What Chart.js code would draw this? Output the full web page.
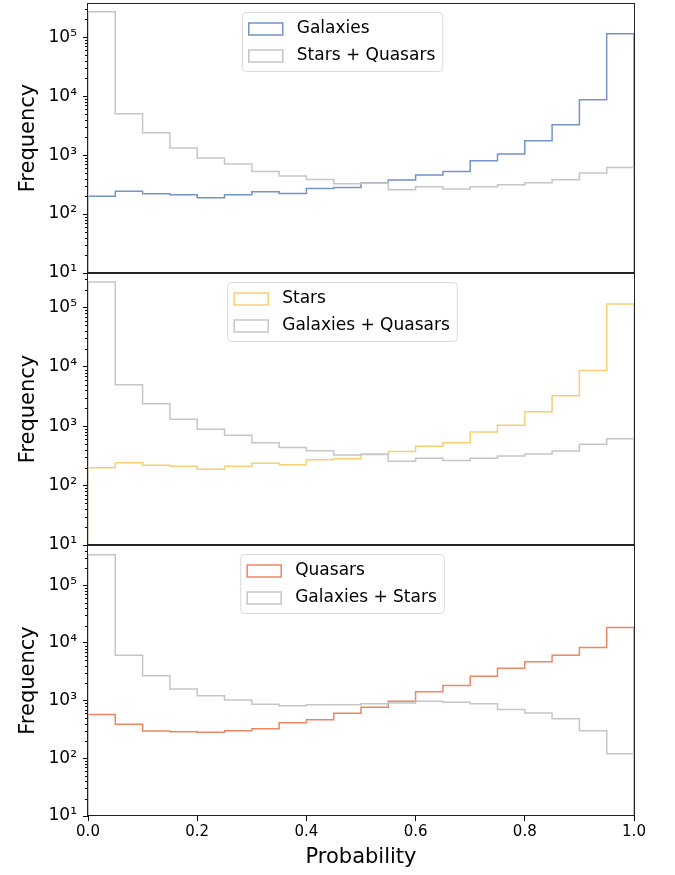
<!DOCTYPE html>
<html>
<head>
<meta charset="utf-8">
<script src="https://cdn.jsdelivr.net/npm/chart.js@4"></script>
<style>
  body { margin: 0; background: #fff; }
  #wrap { position: relative; width: 675px; height: 875px; }
  canvas { position: absolute; left: 0; }
</style>
</head>
<body>
<div id="wrap">
  <canvas id="top" width="675" height="290" style="top:0"></canvas>
  <canvas id="mid" width="675" height="290" style="top:270px"></canvas>
  <canvas id="bot" width="675" height="340" style="top:535px"></canvas>
</div>
<script>
// histogram bin edges (20 bins of width 0.05)
const binEdges = [0.0, 0.05, 0.1, 0.15, 0.2, 0.25, 0.3, 0.35, 0.4, 0.45, 0.5,
                  0.55, 0.6, 0.65, 0.7, 0.75, 0.8, 0.85, 0.9, 0.95, 1.0];
const xTicks = [0.0, 0.2, 0.4, 0.6, 0.8, 1.0];
const yTicks = [10, 100, 1000, 10000, 100000];

const galaxies = [200, 243, 221, 212, 189, 212, 239, 224, 272, 283,
                  340, 377, 458, 529, 802, 1040, 1750, 3270, 8710, 114000];
const starsQuasars = [269000, 5010, 2390, 1315, 889, 703, 529, 440, 387, 327,
                      335, 258, 290, 265, 290, 314, 340, 382, 495, 618];
const stars = [200, 243, 221, 212, 189, 212, 239, 224, 272, 283,
               340, 377, 458, 529, 802, 1040, 1750, 3270, 8710, 114000];
const galaxiesQuasars = [269000, 5010, 2390, 1315, 889, 703, 529, 440, 387, 327,
                         335, 258, 290, 265, 290, 314, 340, 382, 495, 618];
const quasars = [578, 388, 297, 289, 282, 301, 326, 414, 467, 602,
                 766, 973, 1426, 1840, 2640, 3630, 4720, 6100, 8390, 18600];
const galaxiesStars = [338000, 6100, 2700, 1590, 1217, 1023, 863, 817, 849, 849,
                       884, 909, 973, 934, 884, 706, 610, 486, 301, 120];

Chart.defaults.font.family = "'DejaVu Sans', sans-serif";
Chart.defaults.color = '#000';

const sup = {1: '\u00b9', 2: '\u00b2', 3: '\u00b3', 4: '\u2074', 5: '\u2075'};

// outline of a step histogram, closed down to the floor at both ends
function stepPoints(counts) {
  const last = binEdges[binEdges.length - 1];
  const pts = [{x: binEdges[0], y: 1}];
  counts.forEach((c, i) => pts.push({x: binEdges[i], y: c}));
  pts.push({x: last, y: counts[counts.length - 1]});
  pts.push({x: last, y: 1});
  return pts;
}

// axes frame, minor log ticks and the boxed legend
const panelDecor = {
  id: 'panelDecor',
  afterDatasetsDraw(chart, args, opts) {
    const {ctx, chartArea: a} = chart;
    const y = chart.scales.y;
    ctx.save();
    ctx.strokeStyle = '#000';
    ctx.lineWidth = 1;
    ctx.beginPath();
    for (const d of yTicks) {
      for (let m = 2; m <= 9; m++) {
        const v = d * m;
        if (v > y.max) continue;
        const py = Math.round(y.getPixelForValue(v)) + 0.5;
        ctx.moveTo(a.left - 3, py);
        ctx.lineTo(a.left, py);
      }
    }
    ctx.stroke();
    ctx.strokeStyle = '#222';
    ctx.strokeRect(Math.round(a.left) - 0.5, Math.round(a.top) + 0.5,
                   Math.round(a.right - a.left) + 1, Math.round(a.bottom - a.top) - 1);

    // legend
    ctx.font = "17px 'DejaVu Sans'";
    const items = opts.items;
    const textW = Math.max(...items.map(it => ctx.measureText(it.label).width));
    const w = 7 + 34 + 14 + textW + 7;
    const h = 59;
    const cx = 342;
    const left = cx - w / 2;
    const top = a.top + 9;
    ctx.beginPath();
    ctx.roundRect(left + 0.5, top + 0.5, w, h, 4);
    ctx.fillStyle = 'rgba(255,255,255,0.8)';
    ctx.fill();
    ctx.strokeStyle = '#d9d9d9';
    ctx.stroke();
    items.forEach((it, i) => {
      const cy = top + 17 + i * 27;
      ctx.strokeStyle = it.color;
      ctx.lineWidth = 1.5;
      ctx.strokeRect(left + 7, cy - 6, 34, 12);
      ctx.fillStyle = '#000';
      ctx.textBaseline = 'middle';
      ctx.fillText(it.label, left + 7 + 34 + 14, cy);
    });
    ctx.restore();
  }
};

function makePanel(id, series, ymax, showX, padding) {
  return new Chart(document.getElementById(id), {
    type: 'line',
    data: {
      datasets: series.map(s => ({
        label: s.label,
        data: stepPoints(s.counts),
        borderColor: s.color,
        borderWidth: 1.5,
        stepped: 'before',
        pointRadius: 0,
        fill: false,
        order: s.order
      }))
    },
    options: {
      responsive: false,
      animation: false,
      events: [],
      layout: {padding: padding},
      plugins: {
        legend: {display: false},
        tooltip: {enabled: false},
        panelDecor: {items: series.map(s => ({label: s.label, color: s.color}))}
      },
      scales: {
        x: {
          type: 'linear',
          min: 0,
          max: 1,
          display: showX,
          afterBuildTicks: s => { s.ticks = xTicks.map(v => ({value: v})); },
          afterFit: s => {
            if (showX) s.height = 59;
            s.paddingLeft = 0;
            s.paddingRight = 0;
          },
          grid: {drawOnChartArea: false, tickLength: 5, tickColor: '#000'},
          border: {display: false},
          ticks: {font: {size: 15}, padding: 2, maxRotation: 0, callback: v => v.toFixed(1)},
          title: {display: true, text: 'Probability', font: {size: 21}, padding: {top: 0, bottom: 5}}
        },
        y: {
          type: 'logarithmic',
          min: 10,
          max: ymax,
          afterBuildTicks: s => { s.ticks = yTicks.map(v => ({value: v})); },
          afterFit: s => { s.width = 88; s.paddingTop = 0; s.paddingBottom = 0; },
          grid: {drawOnChartArea: false, tickLength: 5, tickColor: '#000'},
          border: {display: false},
          ticks: {font: {size: 17}, padding: 6, callback: v => '10' + sup[Math.round(Math.log10(v))]},
          title: {display: true, text: 'Frequency', font: {size: 21}, padding: {top: 16, bottom: 0}}
        }
      }
    },
    plugins: [panelDecor]
  });
}

const blue = '#7393c9', yellow = '#f7cf73', orange = '#ee8663', grey = '#c6c6c6';

makePanel('top', [
  {label: 'Galaxies', counts: galaxies, color: blue, order: 1},
  {label: 'Stars + Quasars', counts: starsQuasars, color: grey, order: 0}
], 380000, false, {left: 0, right: 41, top: 3, bottom: 17});

makePanel('mid', [
  {label: 'Stars', counts: stars, color: yellow, order: 1},
  {label: 'Galaxies + Quasars', counts: galaxiesQuasars, color: grey, order: 0}
], 380000, false, {left: 0, right: 41, top: 3, bottom: 15});

makePanel('bot', [
  {label: 'Quasars', counts: quasars, color: orange, order: 1},
  {label: 'Galaxies + Stars', counts: galaxiesStars, color: grey, order: 0}
], 500000, true, {left: 0, right: 41, top: 10, bottom: 0});
</script>
</body>
</html>
